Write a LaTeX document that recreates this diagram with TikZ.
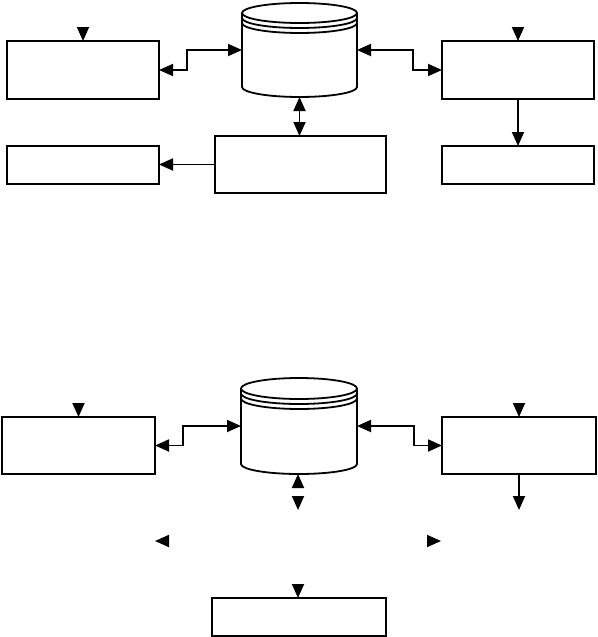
\documentclass[tikz,border=0pt]{standalone}
\usepackage{tikz}
\usetikzlibrary{arrows.meta, positioning}
\tikzset{>={Triangle[length=14pt,width=12pt,color=black]}}
\tikzset{
	box/.style={draw, line width=1.8pt, inner sep=0pt, outer sep=0pt, anchor=north west},
	store/.style={inner sep=0pt, outer sep=0pt},
	link/.style={line width=1.8pt},
	ghost/.style={draw=white, line width=1.8pt}
}

\begin{document}
\begin{tikzpicture}[x=1pt, y=-1pt]
				\useasboundingbox (0,0) rectangle (597,637);
				% upper chart
				\node[box, minimum width=152pt, minimum height=58pt] (inA) at (7,41) {};
				\node[box, minimum width=152pt, minimum height=38pt] (outB) at (7,146) {};
				\node[box, minimum width=152pt, minimum height=58pt] (inC) at (442,41) {};
				\node[box, minimum width=152pt, minimum height=38pt] (outD) at (442,146) {};
				\node[box, minimum width=171pt, minimum height=57pt] (proc) at (215,136) {};
				\node[store, minimum width=115pt, minimum height=94pt] (db) at (299.5,50) {};
				\draw [link] (299.5,13) ellipse [x radius=57.5, y radius=10];
				\draw [link] (242,18) arc [start angle=180, end angle=0, x radius=57.5, y radius=10];
				\draw [link] (242,23) arc [start angle=180, end angle=0, x radius=57.5, y radius=10];
				\draw [link] (242,13) -- (242,87) arc [start angle=180, end angle=0, x radius=57.5, y radius=10] -- (357,13);
				\draw [ghost, ->] ([yshift=20pt]inA.north) -- (inA.north);
				\draw [ghost, ->] ([yshift=20pt]inC.north) -- (inC.north);
				\draw [link, <->] (inA.east) -- ++(28,0) |- (db.west);
				\draw [link, <->] (db.east) -- ++(56,0) |- (inC.west);
				\draw [link, <->] (db.south) -- (db.south |- proc.north);
				\draw [link, ->] (proc.west) -- (outB.east |- proc.west);
				\draw [link, ->] (inC.south) -- (outD.north);
				% lower chart
				\node[box, minimum width=153pt, minimum height=57pt] (inA2) at (2,417) {};
				\node[box, minimum width=154pt, minimum height=57pt] (inC2) at (442,417) {};
				\node[box, minimum width=174pt, minimum height=38pt] (proc2) at (212,598) {};
				\node[store, minimum width=116pt, minimum height=96pt] (db2) at (299,426) {};
				\coordinate (hub2) at (298,541);
				\coordinate (outB2) at (155,541);
				\coordinate (outD2) at (441,541);
				\coordinate (dbend2) at (298,510);
				\coordinate (outend2) at (519,510);
				\draw [ghost, ->] ([yshift=20pt]inA2.north) -- (inA2.north);
				\draw [ghost, ->] ([yshift=20pt]inC2.north) -- (inC2.north);
				\draw [ghost, <->] (db2.south -| dbend2) -- (dbend2);
				\draw [ghost, ->] (hub2) -- (outB2);
				\draw [ghost, ->] (hub2) -- (outD2);
				\draw [ghost, ->] (hub2) -- (hub2 |- proc2.north);
				\draw [link] (299,388.5) ellipse [x radius=58, y radius=10.5];
				\draw [link] (241,393.5) arc [start angle=180, end angle=0, x radius=58, y radius=10.5];
				\draw [link] (241,398.5) arc [start angle=180, end angle=0, x radius=58, y radius=10.5];
				\draw [link] (241,388.5) -- (241,464) arc [start angle=180, end angle=0, x radius=58, y radius=10] -- (357,388.5);
				\draw [link, <->] (inA2.east) -- ++(28,0) |- (db2.west);
				\draw [link, <->] (db2.east) -- ++(57,0) |- (inC2.west);
				\draw [link, ->] (inC2.south) -- (outend2);
\end{tikzpicture}
\end{document}
